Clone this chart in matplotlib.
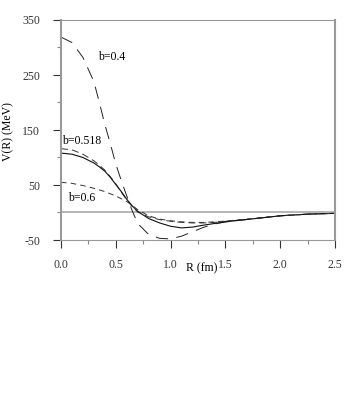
import numpy as np
import matplotlib
matplotlib.use("Agg")
from matplotlib import pyplot as plt
from matplotlib.ticker import MultipleLocator

plt.rcParams['font.family'] = ['Liberation Serif', 'DejaVu Serif']
plt.rcParams['lines.scale_dashes'] = False
plt.rcParams['axes.unicode_minus'] = False

# radius grid (fm) and potentials (MeV)
R = [0.0, 0.1, 0.2, 0.3, 0.35, 0.4, 0.45, 0.5, 0.55, 0.6, 0.65, 0.7,
     0.8, 0.9, 1.0, 1.1, 1.2, 1.3, 1.4, 1.5, 1.75, 2.0, 2.25, 2.5]

v_b04 = [319, 309, 282, 238, 200, 160, 125, 88, 58, 30, 3, -20,
         -40, -47, -48, -43, -35, -27, -21, -17, -11.5, -6, -3, -1.5]
v_b0518 = [108, 106, 100, 90, 83, 75, 64, 51, 38, 24, 12, 2,
           -11, -19, -25, -28, -26.5, -23, -20, -17, -11.5, -6, -3, -1.5]
v_near = [116, 114, 106, 94, 86, 77, 65, 52, 37, 23, 11, 1,
          -8, -13, -16, -18, -19, -19, -18, -16, -11.5, -6, -3, -1.5]
v_b06 = [55, 53, 49, 44, 41, 38, 34, 30, 25, 20, 13, 5,
         -6, -12, -15, -17, -18, -18, -17, -15.5, -11, -6, -3, -1.5]

xticks = [0.0, 0.5, 1.0, 1.5, 2.0, 2.5]
yticks = [-50, 50, 150, 250, 350]

fig = plt.figure(figsize=(3.6, 4.15), dpi=100)
ax = fig.add_axes([61/360, 1-240/415, 274/360, 220/415])

ax.axhline(0, color='#b0b0b0', lw=1.3, zorder=1)

ax.plot(R, v_b04, color='#222222', lw=0.7, dashes=(9, 6))
ax.plot(R, v_near, color='#333333', lw=0.7, dashes=(5, 3))
ax.plot(R, v_b0518, color='#111111', lw=0.8)
ax.plot(R, v_b06, color='#333333', lw=0.7, dashes=(4, 3))

ax.text(0.34, 282, "b=0.4", fontsize=8.5, va='center')
ax.text(0.005, 130, "b=0.518", fontsize=8.5, va='center')
ax.text(0.06, 27, "b=0.6", fontsize=8.5, va='center')

ax.set_xlim(0, 2.5)
ax.set_ylim(-50, 350)
ax.set_xticks(xticks)
ax.set_xticklabels(["%.1f" % t for t in xticks])
ax.set_yticks(yticks)
ax.xaxis.set_minor_locator(MultipleLocator(0.25))
ax.yaxis.set_minor_locator(MultipleLocator(50))
ax.tick_params(axis='both', which='major', labelsize=8.5, colors='#333333',
               length=6, width=0.8, direction='out')
ax.tick_params(axis='both', which='minor', colors='#888888', length=3, width=0.8)
ax.tick_params(axis='x', pad=8)
ax.tick_params(axis='y', pad=9)

for side, w in [('left', 1.5), ('top', 0.8), ('right', 1.5), ('bottom', 0.8)]:
    ax.spines[side].set_color('#999999')
    ax.spines[side].set_linewidth(w)

fig.text(202/360, 1-268/415, "R (fm)", fontsize=8.5, ha='center', va='center')
fig.text(8/360, 1-132/415, "V(R) (MeV)", fontsize=8.5, ha='center', va='center',
         rotation=90)

plt.savefig("out.png", dpi=100)
